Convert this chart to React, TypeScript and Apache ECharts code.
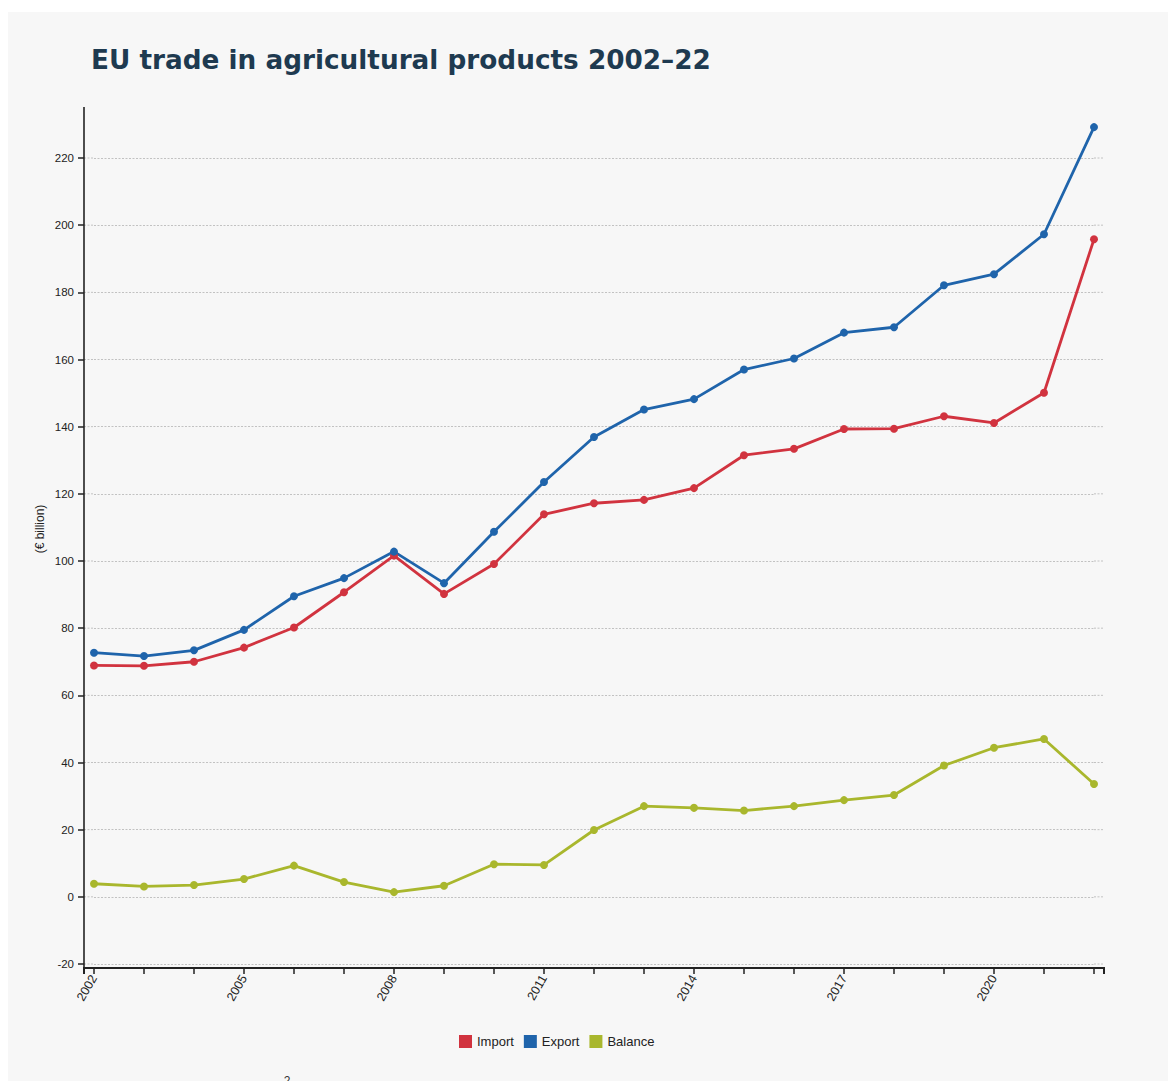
import React, { useEffect, useRef } from "react";
import * as echarts from "echarts";

// EU agri-food trade, € billion
const years = [
  "2002", "2003", "2004", "2005", "2006", "2007", "2008", "2009", "2010", "2011", "2012",
  "2013", "2014", "2015", "2016", "2017", "2018", "2019", "2020", "2021", "2022",
];
const importValues = [
  68.9, 68.8, 70.0, 74.2, 80.2, 90.7, 101.6, 90.2, 99.1, 113.9, 117.2,
  118.2, 121.7, 131.5, 133.4, 139.3, 139.4, 143.1, 141.1, 150.1, 195.8,
];
const exportValues = [
  72.7, 71.7, 73.4, 79.5, 89.5, 94.9, 102.8, 93.4, 108.7, 123.5, 136.9,
  145.1, 148.2, 157.0, 160.3, 168.0, 169.6, 182.1, 185.4, 197.3, 229.2,
];
const balanceValues = [
  3.9, 3.1, 3.5, 5.3, 9.3, 4.4, 1.4, 3.3, 9.7, 9.5, 19.9,
  27.0, 26.5, 25.7, 27.0, 28.8, 30.3, 39.1, 44.4, 47.0, 33.6,
];
const yMin = -20;
const yMax = 220;
const yStep = 20;

const seriesColors = { Import: "#d1333f", Export: "#1f64ab", Balance: "#a9b72d" };

const W = 1168;
const H = 1081;
const plot = { left: 94, right: 1094, top: 158, bottom: 964 };
const axisX = 84;
const axisY = 968;
const axisEnd = 1104;
const labelFont = "'Liberation Sans', Arial, Helvetica, sans-serif";
const ink = "#222";
const gridStyle = { stroke: "#c2c2c2", lineWidth: 1, lineDash: [2, 1.5] };

export default function App() {
  const ref = useRef<HTMLDivElement>(null);

  useEffect(() => {
    if (!ref.current) return;
    const chart = echarts.init(ref.current, null, { renderer: "svg" });

    const line = (name: keyof typeof seriesColors, data: number[]) => ({
      name,
      type: "line",
      data,
      clip: false,
      symbol: "circle",
      symbolSize: 8,
      showSymbol: true,
      lineStyle: { color: seriesColors[name], width: 2.8 },
      itemStyle: { color: seriesColors[name] },
      emphasis: { disabled: true },
      z: 3,
    });

    const steps = (yMax - yMin) / yStep;
    const gridExtensions = Array.from({ length: steps + 1 }, (_, i) => {
      const y = plot.bottom - (i * (plot.bottom - plot.top)) / steps;
      return [
        { type: "line", shape: { x1: axisX, y1: y, x2: plot.left, y2: y }, style: gridStyle, silent: true },
        { type: "line", shape: { x1: plot.right, y1: y, x2: axisEnd, y2: y }, style: gridStyle, silent: true },
      ];
    }).flat();

    chart.setOption({
      animation: false,
      backgroundColor: "#f7f7f7",
      title: {
        text: "EU trade in agricultural products 2002–22",
        left: 86,
        top: 42,
        textStyle: {
          fontFamily: "'DejaVu Sans', Inter, sans-serif",
          fontWeight: 700,
          fontSize: 26.3,
          color: "#1e3a50",
        },
      },
      legend: {
        data: ["Import", "Export", "Balance"],
        left: 454,
        top: 1030,
        icon: "rect",
        itemWidth: 13,
        itemHeight: 13,
        itemGap: 10,
        selectedMode: false,
        textStyle: { fontFamily: labelFont, fontSize: 13, color: ink },
      },
      grid: {
        left: plot.left,
        right: W - plot.right,
        top: plot.top,
        bottom: H - plot.bottom,
        containLabel: false,
      },
      xAxis: {
        type: "category",
        data: years,
        boundaryGap: false,
        offset: axisY - plot.bottom,
        axisLine: { show: false, onZero: false },
        axisTick: {
          show: true,
          interval: 0,
          length: 6,
          lineStyle: { color: ink, width: 1.5 },
        },
        axisLabel: {
          interval: 2,
          rotate: 60,
          margin: 8,
          fontFamily: labelFont,
          fontSize: 12.5,
          color: ink,
        },
        splitLine: { show: false },
      },
      yAxis: {
        type: "value",
        min: yMin,
        max: yMax,
        interval: yStep,
        offset: plot.left - axisX,
        axisLine: { show: false },
        axisTick: { show: true, length: 6, lineStyle: { color: ink, width: 1.5 } },
        axisLabel: { margin: 10, fontFamily: labelFont, fontSize: 11.5, color: ink },
        splitLine: {
          show: true,
          lineStyle: { color: "#c2c2c2", width: 1, type: [2, 1.5] },
        },
      },
      graphic: [
        // white page margins around the panel
        { type: "rect", shape: { x: 0, y: 0, width: W, height: 12 }, style: { fill: "#ffffff" }, silent: true },
        { type: "rect", shape: { x: 0, y: 0, width: 8, height: H }, style: { fill: "#ffffff" }, silent: true },
        // gridlines reach across the full axis span
        ...gridExtensions,
        // axis domain lines
        { type: "line", shape: { x1: axisX, y1: 107, x2: axisX, y2: axisY + 1 }, style: { stroke: ink, lineWidth: 1.6 }, silent: true, z: 10 },
        {
          type: "polyline",
          shape: { points: [[axisX, axisY + 6], [axisX, axisY], [axisEnd, axisY], [axisEnd, axisY + 6]] },
          style: { stroke: ink, lineWidth: 2, fill: "none" },
          silent: true,
          z: 10,
        },
        {
          type: "text",
          x: 40,
          y: 529,
          rotation: Math.PI / 2,
          style: {
            text: "(€ billion)",
            fontFamily: labelFont,
            fontSize: 12,
            fill: ink,
            align: "center",
            verticalAlign: "middle",
          },
          silent: true,
        },
        {
          type: "text",
          x: 287,
          y: 1075,
          style: { text: "2", fontFamily: labelFont, fontSize: 12, fill: "#333", align: "center", verticalAlign: "top" },
          silent: true,
        },
      ],
      series: [
        line("Import", importValues),
        line("Export", exportValues),
        line("Balance", balanceValues),
      ],
    });

    return () => chart.dispose();
  }, []);

  return (
    <div
      ref={ref}
      style={{ position: "absolute", left: 0, top: 0, width: W, height: H }}
    />
  );
}
